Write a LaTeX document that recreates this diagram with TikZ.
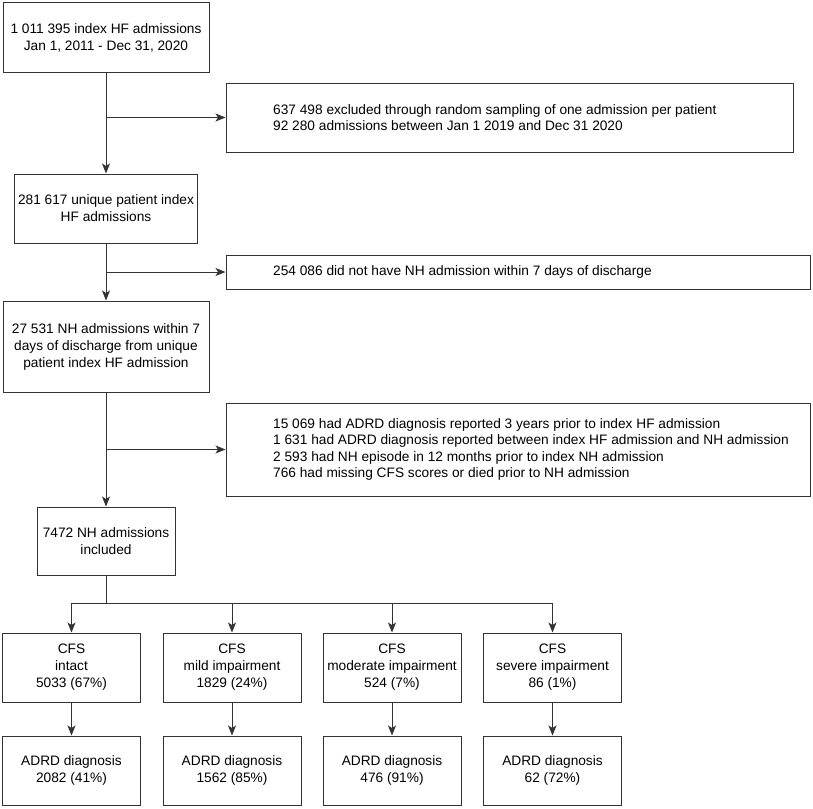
\documentclass[tikz,border=0pt]{standalone}
\usepackage{fontspec}
\setmainfont{Liberation Sans}
\usetikzlibrary{arrows.meta}
\begin{document}
\begin{tikzpicture}[x=1pt,y=-1pt,
  box/.style={draw=black!80, line width=1pt, rectangle, inner sep=0pt, align=center, font=\fontsize{13.7}{17}\selectfont},
  cbox/.style={box, minimum width=138pt, minimum height=69pt},
  txt/.style={inner sep=0pt, anchor=west, align=left, font=\fontsize{13.7}{16.5}\selectfont},
  arr/.style={draw=black!80, line width=1pt, -{Stealth[length=10pt,width=8pt,inset=2.5pt]}},
  ln/.style={draw=black!80, line width=1pt}]
\useasboundingbox (0,0) rectangle (813,808);
% main column
\node[box, minimum width=206pt, minimum height=69pt] (b1) at (106,37.5) {1 011 395 index HF admissions\\Jan 1, 2011 - Dec 31, 2020};
\node[box, minimum width=183pt, minimum height=69pt] (b3) at (106,208.5) {281 617 unique patient index\\HF admissions};
\node[box, minimum width=206pt, minimum height=91pt] (b5) at (106,346.5) {27 531 NH admissions within 7\\days of discharge from unique\\patient index HF admission};
\node[box, minimum width=138pt, minimum height=68pt] (b7) at (106,541) {7472 NH admissions\\included};
% exclusion boxes
\node[box, minimum width=567pt, minimum height=69pt] (b2) at (509.5,117.5) {};
\node[txt] (t2) at (273,117.5) {637 498 excluded through random sampling of one admission per patient\\92 280 admissions between Jan 1 2019 and Dec 31 2020};
\node[box, minimum width=584pt, minimum height=34pt] (b4) at (518,272) {};
\node[txt] (t4) at (273,272) {254 086 did not have NH admission within 7 days of discharge};
\node[box, minimum width=584pt, minimum height=93pt] (b6) at (518,449.5) {};
\node[txt] (t6) at (273,449.5) {15 069 had ADRD diagnosis reported 3 years prior to index HF admission\\1 631 had ADRD diagnosis reported between index HF admission and NH admission\\2 593 had NH episode in 12 months prior to index NH admission\\766 had missing CFS scores or died prior to NH admission};
% CFS boxes
\node[cbox] (c1) at (71.5,667.5) {CFS\\intact\\5033 (67\%)};
\node[cbox] (c2) at (232,667.5) {CFS\\mild impairment\\1829 (24\%)};
\node[cbox] (c3) at (392,667.5) {CFS\\moderate impairment\\524 (7\%)};
\node[cbox] (c4) at (552.5,667.5) {CFS\\severe impairment\\86 (1\%)};
% ADRD boxes
\node[cbox] (d1) at (71.5,770.5) {ADRD diagnosis\\2082 (41\%)};
\node[cbox] (d2) at (232,770.5) {ADRD diagnosis\\1562 (85\%)};
\node[cbox] (d3) at (392,770.5) {ADRD diagnosis\\476 (91\%)};
\node[cbox] (d4) at (552.5,770.5) {ADRD diagnosis\\62 (72\%)};
% connectors
\draw[arr] (b1.south) -- (b3.north);
\draw[arr] (b3.south) -- (b5.north);
\draw[arr] (b5.south) -- (b7.north);
\coordinate (j1) at (106,117.5);
\coordinate (j2) at (106,272);
\coordinate (j3) at (106,449.5);
\draw[arr] (j1) -- (b2.west);
\draw[arr] (j2) -- (b4.west);
\draw[arr] (j3) -- (b6.west);
\coordinate (s) at (106,603);
\draw[ln] (b7.south) -- (s);
\draw[arr] (s) -| (c1.north);
\draw[arr] (s) -| (c2.north);
\draw[arr] (s) -| (c3.north);
\draw[arr] (s) -| (c4.north);
\draw[arr] (c1.south) -- (d1.north);
\draw[arr] (c2.south) -- (d2.north);
\draw[arr] (c3.south) -- (d3.north);
\draw[arr] (c4.south) -- (d4.north);
\end{tikzpicture}
\end{document}
